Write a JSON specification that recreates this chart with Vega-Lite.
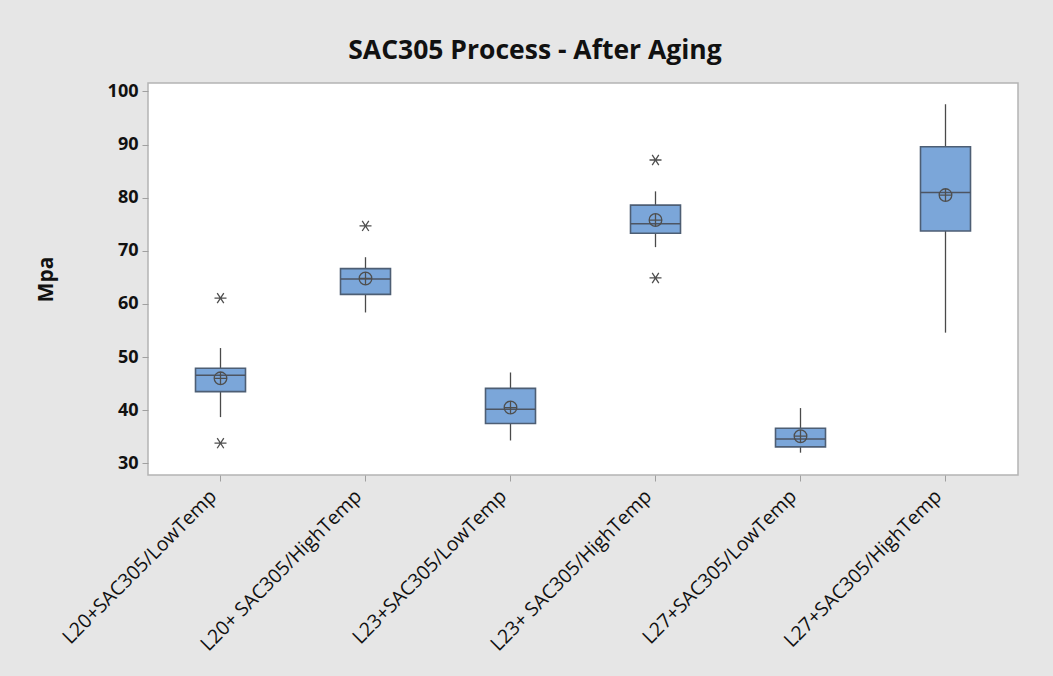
{
  "$schema": "https://vega.github.io/schema/vega-lite/v6.json",
  "autosize": {"type": "none"},
  "width": 870,
  "height": 392,
  "padding": {"left": 148, "top": 83, "right": 35, "bottom": 201},
  "background": "#e6e6e6",
  "config": {
    "view": {"fill": "white", "stroke": "#b4b4b4", "strokeWidth": 1.5},
    "font": "Open Sans"
  },
  "title": {
    "text": "SAC305 Process - After Aging",
    "font": "Open Sans",
    "fontSize": 26.5,
    "fontWeight": "bold",
    "color": "#111111",
    "anchor": "middle",
    "frame": "group",
    "dx": -48,
    "offset": 18
  },
  "datasets": {
    "boxes": [
      {"group": "L20+SAC305/LowTemp", "lower": 38.7, "q1": 43.5, "median": 46.6, "q3": 47.9, "upper": 51.7, "mean": 46.0},
      {"group": "L20+ SAC305/HighTemp", "lower": 58.4, "q1": 61.8, "median": 64.7, "q3": 66.65, "upper": 68.8, "mean": 64.8},
      {"group": "L23+SAC305/LowTemp", "lower": 34.3, "q1": 37.5, "median": 40.2, "q3": 44.1, "upper": 47.1, "mean": 40.5},
      {"group": "L23+ SAC305/HighTemp", "lower": 70.7, "q1": 73.3, "median": 75.1, "q3": 78.6, "upper": 81.2, "mean": 75.8},
      {"group": "L27+SAC305/LowTemp", "lower": 32.0, "q1": 33.1, "median": 34.6, "q3": 36.6, "upper": 40.4, "mean": 35.1},
      {"group": "L27+SAC305/HighTemp", "lower": 54.6, "q1": 73.75, "median": 81.0, "q3": 89.6, "upper": 97.6, "mean": 80.5}
    ],
    "outliers": [
      {"group": "L20+SAC305/LowTemp", "value": 61.1},
      {"group": "L20+SAC305/LowTemp", "value": 33.8},
      {"group": "L20+ SAC305/HighTemp", "value": 74.7},
      {"group": "L23+ SAC305/HighTemp", "value": 87.1},
      {"group": "L23+ SAC305/HighTemp", "value": 64.9}
    ]
  },
  "encoding": {
    "x": {
      "field": "group",
      "type": "nominal",
      "sort": ["L20+SAC305/LowTemp", "L20+ SAC305/HighTemp", "L23+SAC305/LowTemp", "L23+ SAC305/HighTemp", "L27+SAC305/LowTemp", "L27+SAC305/HighTemp"],
      "scale": {"paddingInner": 0, "paddingOuter": 0},
      "axis": {
        "title": null,
        "labelAngle": -45,
        "labelAlign": "right",
        "labelBaseline": "bottom",
        "labelFont": "Open Sans",
        "labelFontSize": 19.5,
        "labelColor": "#111111",
        "labelPadding": 19,
        "domain": false,
        "tickColor": "#a0a0a0",
        "tickSize": 6,
        "labelLimit": 400
      }
    }
  },
  "layer": [
    {
      "data": {"name": "boxes"},
      "mark": {"type": "rule", "color": "#4a4a4a", "strokeWidth": 1.3},
      "encoding": {
        "y": {
          "field": "lower",
          "type": "quantitative",
          "scale": {"domain": [27.8, 101.6], "nice": false, "zero": false},
          "axis": {
            "title": "Mpa",
            "titleFont": "Open Sans",
            "titleFontSize": 21,
            "titleFontWeight": "bold",
            "titleColor": "#111111",
            "titlePadding": 51,
            "values": [30, 40, 50, 60, 70, 80, 90, 100],
            "labelFont": "Open Sans",
            "labelFontSize": 18,
            "labelFontWeight": "bold",
            "labelColor": "#111111",
            "labelPadding": 4,
            "domain": false,
            "grid": false,
            "tickColor": "#a0a0a0",
            "tickSize": 6
          }
        },
        "y2": {"field": "upper"}
      }
    },
    {
      "data": {"name": "boxes"},
      "mark": {"type": "bar", "size": 50, "fill": "#7ba6d9", "stroke": "#4d5e74", "strokeWidth": 1.6},
      "encoding": {
        "y": {"field": "q1", "type": "quantitative"},
        "y2": {"field": "q3"}
      }
    },
    {
      "data": {"name": "boxes"},
      "mark": {"type": "tick", "size": 50, "thickness": 1.5, "color": "#4d5563", "opacity": 1},
      "encoding": {
        "y": {"field": "median", "type": "quantitative"}
      }
    },
    {
      "data": {"name": "boxes"},
      "mark": {"type": "point", "shape": "M-1,0A1,1,0,1,1,1,0A1,1,0,1,1,-1,0ZM-1,0L1,0M0,-1L0,1", "filled": false, "size": 160, "stroke": "#4f4f4f", "strokeWidth": 1.3, "opacity": 1},
      "encoding": {
        "y": {"field": "mean", "type": "quantitative"}
      }
    },
    {
      "data": {"name": "outliers"},
      "mark": {"type": "point", "shape": "M-1,0L1,0M-0.55,-0.85L0.55,0.85M-0.55,0.85L0.55,-0.85", "filled": false, "size": 144, "stroke": "#4f4f4f", "strokeWidth": 1.3, "opacity": 1},
      "encoding": {
        "y": {"field": "value", "type": "quantitative"}
      }
    }
  ]
}
